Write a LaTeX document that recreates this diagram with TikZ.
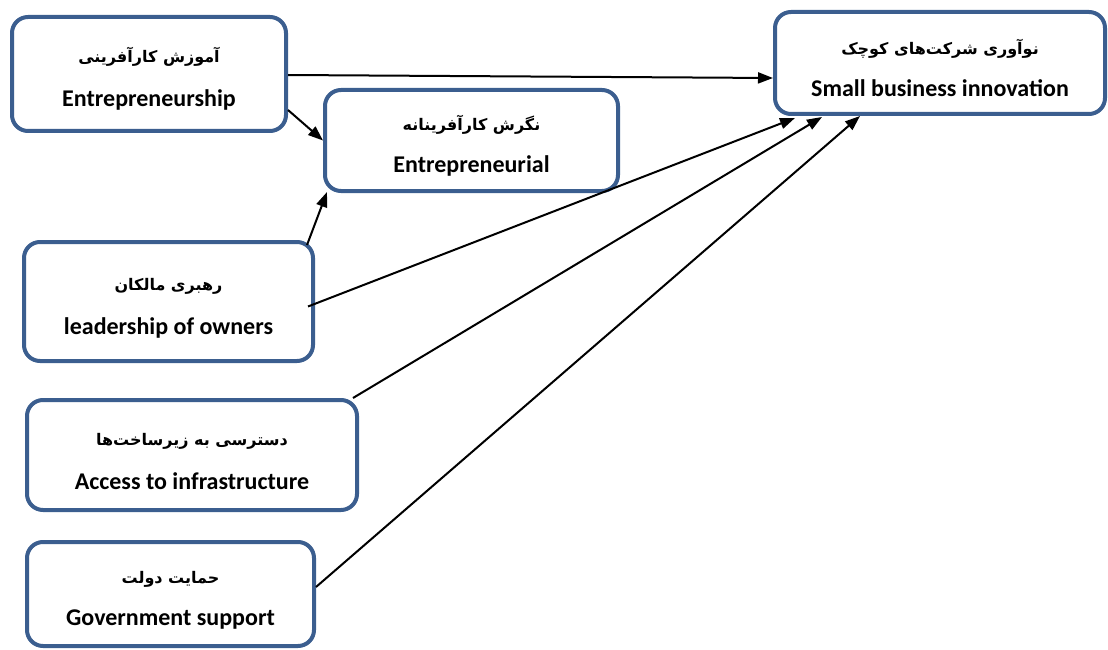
\documentclass[tikz,border=0pt]{standalone}
\usepackage{fontspec}
\setmainfont{Carlito}
\newfontfamily\fa[Script=Arabic]{DejaVu Sans}
\TeXXeTstate=1
\usetikzlibrary{arrows.meta,calc}
\definecolor{boxblue}{RGB}{59,94,143}
\tikzset{
  box/.style={draw=boxblue, line width=4pt, rounded corners=16pt, fill=white,
    align=center, inner sep=0pt, font=\bfseries\fontsize{24}{28}\selectfont},
  arr/.style={line width=2pt, -{Triangle[length=15pt,width=11pt]}},
  ln/.style={line width=2pt}
}
\newcommand{\fat}[1]{\rule{0pt}{25pt}{\fa\fontsize{16}{18}\selectfont\beginR #1\endR}}
\begin{document}
\begin{tikzpicture}[x=1pt,y=-1pt]
\useasboundingbox (0,0) rectangle (1108,650);
\node[box, minimum width=274pt, minimum height=114pt] (A) at (149,74)
  {\fat{آموزش کارآفرینی}\\[16pt]Entrepreneurship};
\node[box, minimum width=293pt, minimum height=101pt] (B) at (471.5,140.5)
  {\fat{نگرش کارآفرینانه}\\[14pt]Entrepreneurial};
\node[box, minimum width=330pt, minimum height=102pt] (C) at (940,63)
  {\fat{نوآوری شرکت‌های کوچک}\\[14pt]Small business innovation};
\node[box, minimum width=289pt, minimum height=119pt] (D) at (168.5,301.5)
  {\fat{رهبری مالکان}\\[16pt]leadership of owners};
\node[box, minimum width=330pt, minimum height=110pt] (E) at (192,455)
  {\fat{دسترسی به زیرساخت‌ها}\\[16pt]Access to infrastructure};
\node[box, minimum width=287pt, minimum height=104pt] (F) at (170.5,594)
  {\fat{حمایت دولت}\\[14pt]Government support};
\draw[arr] ([yshift=-1pt]A.east) -- ([yshift=-15pt]C.west);
\draw[arr] ([yshift=-36pt]A.east) -- (B.west);
\draw[arr] ($(D.north east)+(-8,5)$) -- ($(B.south west)+(4,-1)$);
\draw[arr] ($(D.east)+(-7,5)$) -- ($(C.south west)+(22,2)$);
\draw[arr] ($(E.north east)+(-6,0)$) -- ($(C.south west)+(49,1)$);
\draw[arr] ($(F.east)+(0,-7)$) -- ($(C.south west)+(87,0)$);
\end{tikzpicture}
\end{document}
